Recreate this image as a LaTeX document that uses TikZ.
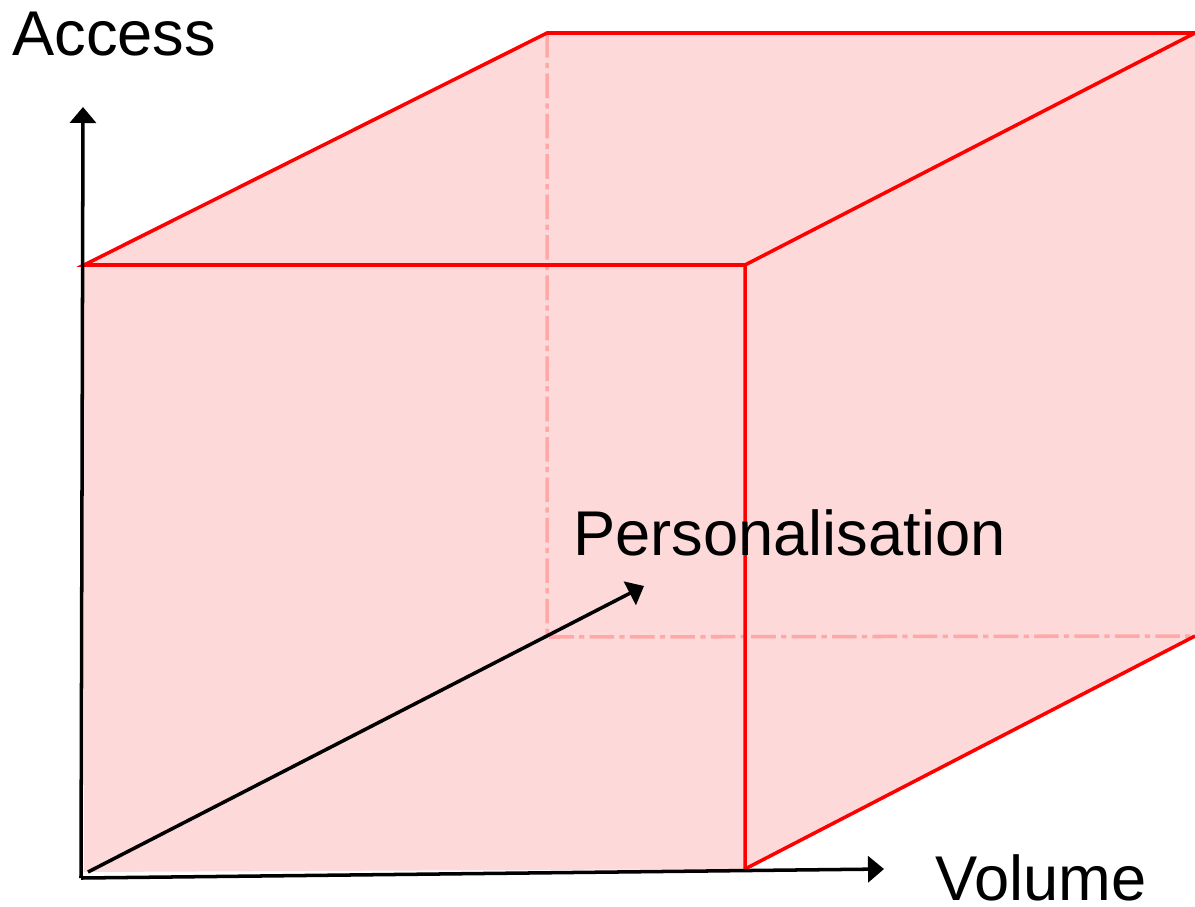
\documentclass[tikz,border=0pt]{standalone}
\usepackage{fontspec}
\setmainfont{Liberation Sans}
\usetikzlibrary{arrows.meta}
\definecolor{cubefill}{RGB}{253,217,217}
\definecolor{cubeedge}{RGB}{255,0,0}
\definecolor{hidden}{RGB}{255,168,168}

\begin{document}
\begin{tikzpicture}[x=0.02cm, y=-0.02cm,
  edge/.style={cubeedge, line width=2pt},
  hid/.style={hidden, line width=2pt, dash pattern=on 14pt off 3pt on 3pt off 3pt},
  axis/.style={black, line width=2pt, -{Triangle[length=0.32cm, width=0.52cm]}},
  lab/.style={font=\fontsize{36}{40}\selectfont, inner sep=0pt, anchor=base west},
]
\useasboundingbox (0,0) rectangle (1195,906);
% cube corners
\coordinate (ftl) at (84,265);
\coordinate (ftr) at (745,265);
\coordinate (fbr) at (745,869);
\coordinate (btl) at (547,33);
\coordinate (btr) at (1195,33);
\coordinate (bbr) at (1195,636);
\coordinate (bbl) at (547,637);
\coordinate (fbl) at (84,872);
% axes ends
\coordinate (o) at (81,878);
\coordinate (up) at (83,107);
\coordinate (right) at (884,869);
\coordinate (o2) at (88,872);
\coordinate (deep) at (644,586);

\fill[cubefill] (ftl) -- (btl) -- (btr) -- (bbr) -- (fbr) -- (fbl) -- cycle;
\draw[hid] (btl) -- (bbl) -- (bbr);
\draw[edge] (ftl) -- (btl) -- (btr) -- (ftr) -- cycle;
\draw[edge] (ftr) -- (fbr) -- (bbr);

\draw[axis] (o) -- (up);
\draw[axis] (o) -- (right);
\draw[axis] (o2) -- (deep);

\node[lab] (access) at (12,55) {Access};
\node[lab] (volume) at (935,900) {Volume};
\node[lab] (pers) at (573,555) {Personalisation};
\end{tikzpicture}
\end{document}
